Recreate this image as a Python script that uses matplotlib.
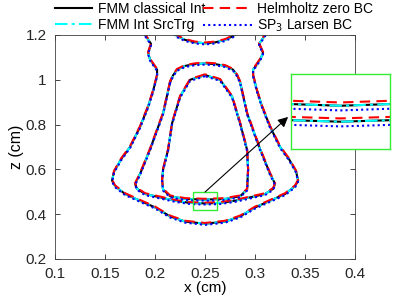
import numpy as np
import matplotlib
matplotlib.use('Agg')
import matplotlib.pyplot as plt
from matplotlib.patches import Rectangle

plt.rcParams['font.family'] = ['Liberation Sans', 'DejaVu Sans']

# contour lines (x, z) in cm
outer_x = [0.188, 0.190, 0.196, 0.193, 0.195, 0.202, 0.202, 0.198, 0.193, 0.185, 0.175, 0.166,
           0.159, 0.157, 0.160, 0.170, 0.185, 0.200, 0.215, 0.230, 0.250, 0.270, 0.285, 0.300,
           0.315, 0.330, 0.340, 0.343, 0.341, 0.334, 0.325, 0.315, 0.307, 0.302, 0.298, 0.298,
           0.305, 0.308, 0.304, 0.310, 0.312]
outer_z = [1.22, 1.20, 1.16, 1.12, 1.09, 1.045, 1.02, 0.95, 0.88, 0.79, 0.70, 0.645,
           0.59, 0.55, 0.525, 0.49, 0.46, 0.43, 0.39, 0.367, 0.357, 0.367, 0.39, 0.43,
           0.46, 0.49, 0.525, 0.55, 0.59, 0.645, 0.70, 0.79, 0.88, 0.95, 1.02, 1.045,
           1.09, 1.12, 1.16, 1.20, 1.22]

cap_x = [0.218, 0.222, 0.230, 0.240, 0.250, 0.260, 0.270, 0.278, 0.282]
cap_z = [1.21, 1.195, 1.178, 1.167, 1.163, 1.167, 1.178, 1.195, 1.21]

middle_x = [0.215, 0.208, 0.195, 0.185, 0.180, 0.182, 0.190, 0.205, 0.220, 0.235, 0.250,
            0.265, 0.280, 0.295, 0.310, 0.318, 0.320, 0.315, 0.305, 0.292, 0.285,
            0.282, 0.278, 0.270, 0.260, 0.250, 0.240, 0.230, 0.222, 0.218, 0.215]
middle_z = [0.99, 0.85, 0.69, 0.58, 0.535, 0.513, 0.49, 0.475, 0.46, 0.450, 0.448,
            0.450, 0.46, 0.475, 0.49, 0.513, 0.535, 0.58, 0.69, 0.85, 0.99,
            1.02, 1.045, 1.062, 1.070, 1.073, 1.070, 1.062, 1.045, 1.02, 0.99]

inner_x = [0.250, 0.235, 0.225, 0.217, 0.213, 0.208, 0.207, 0.208, 0.215, 0.230, 0.250,
           0.270, 0.285, 0.292, 0.293, 0.292, 0.285, 0.277, 0.265, 0.250]
inner_z = [1.021, 1.0, 0.925, 0.806, 0.687, 0.60, 0.55, 0.51, 0.48, 0.468, 0.465,
           0.468, 0.48, 0.51, 0.60, 0.687, 0.806, 0.925, 1.0, 1.021]

# the four methods: names, colours, line styles and small z shift seen in the zoom
metodos = ['FMM classical Int', 'FMM Int SrcTrg', 'Helmholtz zero BC', 'SP$_3$ Larsen BC']
cores = ['black', 'cyan', 'red', 'blue']
estilos = ['-', (0, (6, 2, 1.5, 2)), (0, (5, 3)), (0, (1, 1.5))]
dz = [0.0, 0.0, 0.0035, -0.005]

x_ticks = [0.1, 0.15, 0.2, 0.25, 0.3, 0.35, 0.4]
x_labels = ['0.1', '0.15', '0.2', '0.25', '0.3', '0.35', '0.4']
y_ticks = [0.2, 0.4, 0.6, 0.8, 1.0, 1.2]
y_labels = ['0.2', '0.4', '0.6', '0.8', '1', '1.2']

box_x = [0.238, 0.262]
box_z = [0.419, 0.499]

curvas = [(outer_x, outer_z), (cap_x, cap_z), (middle_x, middle_z), (inner_x, inner_z)]

fig = plt.figure(figsize=(3.99, 2.99), dpi=100)
ax = fig.add_axes([0.138, 0.134, 0.752, 0.749])
axin = fig.add_axes([0.729, 0.502, 0.248, 0.251])

linhas = []
for i in range(4):
    for k, (cx, cz) in enumerate(curvas):
        z = np.array(cz) + dz[i]
        l, = ax.plot(cx, z, color=cores[i], linestyle=estilos[i], lw=1.5)
        axin.plot(cx, z, color=cores[i], linestyle=estilos[i], lw=1.5)
        if k == 0:
            linhas.append(l)

ax.set_xlim(0.1, 0.4)
ax.set_ylim(0.2, 1.2)
ax.set_xticks(x_ticks)
ax.set_xticklabels(x_labels)
ax.set_yticks(y_ticks)
ax.set_yticklabels(y_labels)
ax.tick_params(direction='in', top=True, right=True, labelsize=11, length=3.5,
               width=0.6, colors='#262626')
ax.tick_params(axis='x', pad=6)
ax.tick_params(axis='y', pad=6)
for s in ax.spines.values():
    s.set_linewidth(0.6)
    s.set_color('#404040')
ax.set_xlabel('x (cm)', fontsize=11, labelpad=0)
ax.set_ylabel('z (cm)', fontsize=11.5, labelpad=1)

ax.add_patch(Rectangle((box_x[0], box_z[0]), box_x[1] - box_x[0], box_z[1] - box_z[0],
                       fill=False, edgecolor='#33ee33', lw=1.0, zorder=5))

axin.set_xlim(box_x)
axin.set_ylim(box_z)
axin.set_xticks([])
axin.set_yticks([])
for s in axin.spines.values():
    s.set_color('#33ee33')
    s.set_linewidth(1.0)

ax.annotate('', xy=(0.333, 0.834), xytext=(0.25, 0.499), annotation_clip=False,
            arrowprops=dict(arrowstyle='-|>', color='black', lw=0.8, mutation_scale=15,
                            shrinkA=0, shrinkB=0), zorder=6)

# legend in two columns, each one its own legend (the handles differ in length)
leg1 = fig.legend(linhas[:2], metodos[:2], loc='upper left', bbox_to_anchor=(0.125, 1.012),
                  frameon=False, fontsize=10, handlelength=2.6, handletextpad=0.5,
                  labelspacing=0.15, borderaxespad=0)
leg2 = fig.legend(linhas[2:], metodos[2:], loc='upper left', bbox_to_anchor=(0.495, 1.012),
                  frameon=False, fontsize=10, handlelength=3.5, handletextpad=0.35,
                  labelspacing=0.15, borderaxespad=0)

fig.savefig('out.png', dpi=100)
